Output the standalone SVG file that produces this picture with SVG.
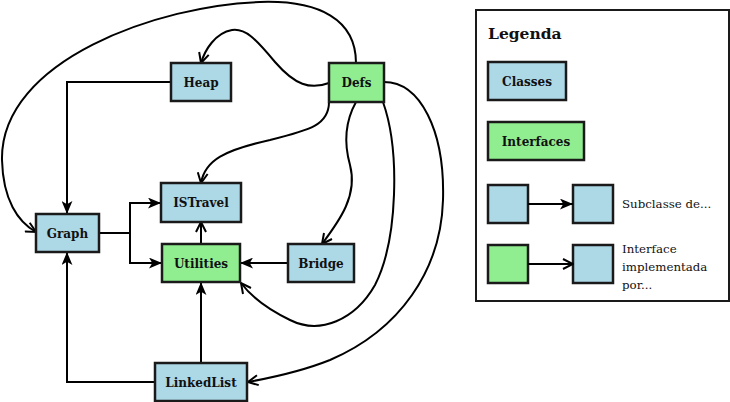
<svg xmlns="http://www.w3.org/2000/svg" width="730" height="402" viewBox="0 0 730 402">
<style>
.cls{fill:#add8e6;stroke:#1a1a1a;stroke-width:2.5}
.ifc{fill:#90ee90;stroke:#1a1a1a;stroke-width:2.5}
.lbl{font-family:"DejaVu Serif","Liberation Serif",serif;font-weight:bold;font-size:12px;fill:#111;text-anchor:middle}
.e{fill:none;stroke:#000;stroke-width:2}
.sub{marker-end:url(#fill)}
.imp{marker-end:url(#open)}
.txt{font-family:"DejaVu Serif","Liberation Serif",serif;font-size:11.8px;fill:#111}
</style>
<defs>
<marker id="fill" viewBox="0 0 12 10" refX="12" refY="5" markerWidth="13" markerHeight="11" markerUnits="userSpaceOnUse" orient="auto">
<path d="M0,0 L12,5 L0,10 L3,5 Z" fill="#000"/>
</marker>
<marker id="open" viewBox="0 0 12 12" refX="11" refY="6" markerWidth="12" markerHeight="12" markerUnits="userSpaceOnUse" orient="auto">
<path d="M1,1 L11,6 L1,11" fill="none" stroke="#000" stroke-width="2"/>
</marker>
</defs>
<rect width="730" height="402" fill="#fff"/>
<g id="connectors">
<path class="e sub" d="M171,82 H67 V214"/>
<path class="e sub" d="M99,233 H130 V203 H161"/>
<path class="e sub" d="M130,233 V263 H162"/>
<path class="e imp" d="M201,244 V222"/>
<path class="e sub" d="M288,263 H240"/>
<path class="e sub" d="M201,363 V282"/>
<path class="e sub" d="M155,382 H67 V252"/>
<path class="e imp" d="M329,83 C310,90 295,85 275,62 C255,38 245,28 232,30 C215,33 205,50 201,63"/>
<path class="e imp" d="M356,63 C356,20 320,0 260,2 C160,5 0,60 2,160 C3,200 18,222 36,232"/>
<path class="e imp" d="M329,102 C329,125 310,130 270,140 C225,150 205,160 201,183"/>
<path class="e imp" d="M356,102 C346,120 343,140 350,165 C358,195 340,220 322,244"/>
<path class="e imp" d="M383,102 C400,150 398,240 375,285 C355,320 320,335 290,320 C265,308 250,295 241,283"/>
<path class="e imp" d="M384,82 C420,82 445,130 443,200 C441,270 400,330 330,360 C300,372 270,378 248,382"/>
</g>
<g id="node-heap"><rect class="cls" x="171" y="63" width="60" height="38"/><text class="lbl" x="201" y="86.5">Heap</text></g>
<g id="node-defs"><rect class="ifc" x="329" y="63" width="55" height="39"/><text class="lbl" x="356.5" y="86.5">Defs</text></g>
<g id="node-istravel"><rect class="cls" x="161" y="183" width="80" height="39"/><text class="lbl" x="201" y="207">ISTravel</text></g>
<g id="node-graph"><rect class="cls" x="36" y="214" width="63" height="38"/><text class="lbl" x="67.5" y="237.5">Graph</text></g>
<g id="node-utilities"><rect class="ifc" x="162" y="244" width="78" height="38"/><text class="lbl" x="201" y="267.5">Utilities</text></g>
<g id="node-bridge"><rect class="cls" x="288" y="244" width="66" height="38"/><text class="lbl" x="321" y="267.5">Bridge</text></g>
<g id="node-linkedlist"><rect class="cls" x="155" y="363" width="92" height="38"/><text class="lbl" x="201" y="386.5">LinkedList</text></g>
<g id="legend">
<rect x="476" y="10" width="253" height="291" fill="#fff" stroke="#1a1a1a" stroke-width="2"/>
<text x="488" y="39" font-family="DejaVu Serif, Liberation Serif, serif" font-weight="bold" font-size="15.5px" fill="#111">Legenda</text>
<rect class="cls" x="488" y="62" width="78" height="38"/><text class="lbl" x="527" y="85.5">Classes</text>
<rect class="ifc" x="488" y="122" width="96" height="38"/><text class="lbl" x="536" y="145.5">Interfaces</text>
<rect class="cls" x="488" y="185" width="40" height="38"/>
<rect class="cls" x="573" y="185" width="40" height="38"/>
<path class="e sub" d="M528,204 H573"/>
<text class="txt" x="622" y="208">Subclasse de...</text>
<rect class="ifc" x="488" y="245" width="40" height="38"/>
<rect class="cls" x="573" y="245" width="40" height="38"/>
<path class="e imp" d="M528,264 H573"/>
<text class="txt" x="622" y="253">Interface</text>
<text class="txt" x="622" y="271">implementada</text>
<text class="txt" x="622" y="289">por...</text>
</g>
</svg>
